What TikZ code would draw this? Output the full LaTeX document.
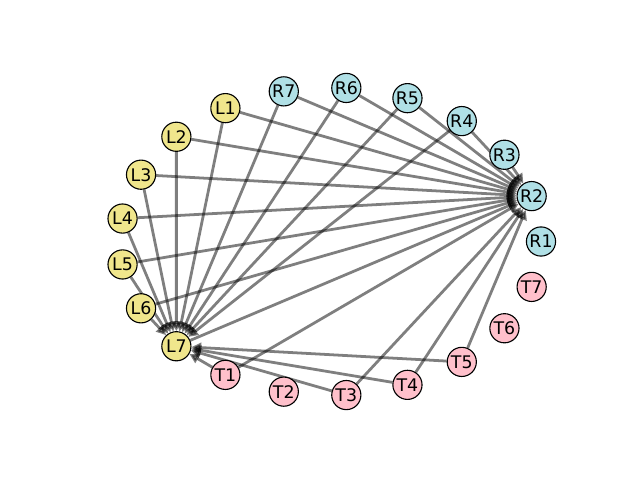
\documentclass[tikz,border=0pt]{standalone}
\usepackage{fontspec}
\setsansfont{DejaVu Sans}
\usetikzlibrary{arrows.meta,backgrounds}
\definecolor{lcol}{HTML}{F0E68C}
\definecolor{rcol}{HTML}{B0E0E6}
\definecolor{tcol}{HTML}{FFC0CB}
\begin{document}
\begin{tikzpicture}[x=0.72pt,y=-0.72pt,
  vtx/.style={circle,draw=black,line width=0.8pt,minimum size=21pt,inner sep=0pt,
    font=\sffamily\fontsize{12.5}{12.5}\selectfont},
  lnode/.style={vtx,fill=lcol},
  rnode/.style={vtx,fill=rcol},
  tnode/.style={vtx,fill=tcol},
  edge/.style={line width=2pt,draw=black,opacity=0.5,
    -{Triangle[length=7pt,width=7pt]}}]
\useasboundingbox (0,0) rectangle (640,480);
\foreach \n [count=\k from 0] in {R1,R2,R3,R4,R5,R6,R7}
  \node[rnode] (\n) at ({330.6+210.4*cos(360*\k/21)},{241.5-154*sin(360*\k/21)}) {\n};
\foreach \n [count=\k from 7] in {L1,L2,L3,L4,L5,L6,L7}
  \node[lnode] (\n) at ({330.6+210.4*cos(360*\k/21)},{241.5-154*sin(360*\k/21)}) {\n};
\foreach \n [count=\k from 14] in {T1,T2,T3,T4,T5,T6,T7}
  \node[tnode] (\n) at ({330.6+210.4*cos(360*\k/21)},{241.5-154*sin(360*\k/21)}) {\n};
\begin{scope}[on background layer]
\foreach \s in {L1,L2,L3,L4,L5,L6,R7,R6,R5,R4,T1,T3,T4,T5}
  \draw[edge] (\s) -- (L7);
\foreach \s in {L1,L2,L3,L4,L5,L6,L7,R7,R6,R5,R4,R3,T1,T3,T4,T5}
  \draw[edge] (\s) -- (R2);
\end{scope}
\end{tikzpicture}
\end{document}
